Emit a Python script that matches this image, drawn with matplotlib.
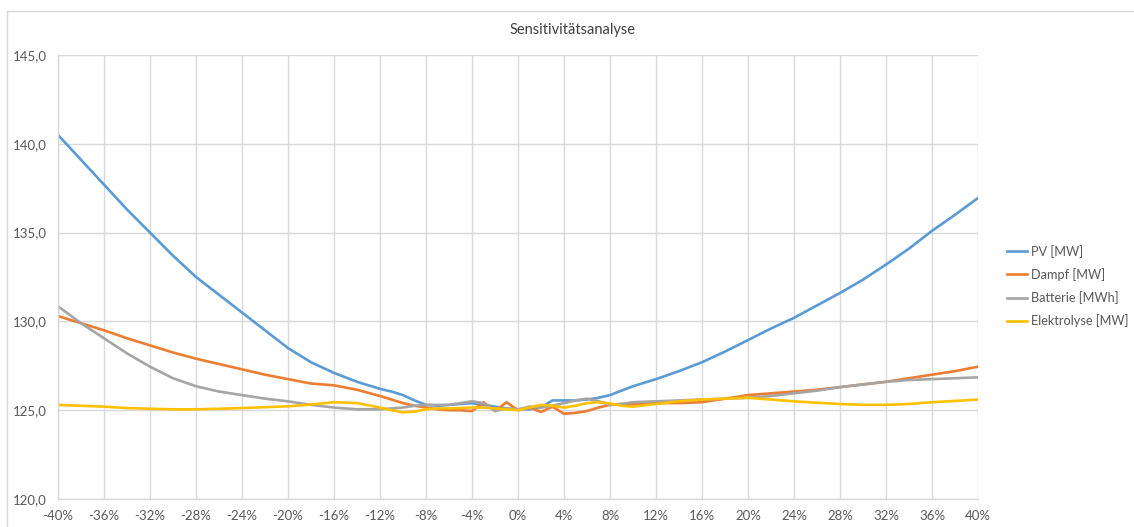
import matplotlib
matplotlib.use("Agg")
import matplotlib.pyplot as plt
from matplotlib.lines import Line2D

# Abweichung in %
x = [-40, -38, -36, -34, -32, -30, -28, -26, -24, -22, -20, -18, -16, -14, -12,
     -11, -10, -9, -8, -7, -6, -5, -4, -3, -2, -1, 0, 1, 2, 3, 4, 5, 6, 7, 8, 9, 10,
     12, 14, 16, 18, 20, 22, 24, 26, 28, 30, 32, 34, 36, 38, 40]

pv = [140.5, 139.1, 137.7, 136.3, 135.0, 133.7, 132.5, 131.5, 130.5, 129.5, 128.5, 127.7, 127.1, 126.6, 126.2,
      126.05, 125.85, 125.55, 125.3, 125.25, 125.3, 125.35, 125.4, 125.3, 125.2, 125.1, 125.05, 125.05, 125.15,
      125.55, 125.55, 125.55, 125.6, 125.7, 125.85, 126.1, 126.35,
      126.75, 127.2, 127.7, 128.3, 128.95, 129.6, 130.2, 130.9, 131.6, 132.35, 133.2, 134.1, 135.1, 136.0, 136.95]

dampf = [130.3, 129.9, 129.5, 129.05, 128.65, 128.25, 127.9, 127.6, 127.3, 127.0, 126.75, 126.5, 126.4, 126.15, 125.8,
         125.6, 125.4, 125.25, 125.15, 125.05, 125.0, 125.0, 124.95, 125.45, 124.95, 125.45, 125.0, 125.15, 124.9,
         125.2, 124.8, 124.85, 124.95, 125.15, 125.3, 125.35, 125.35,
         125.4, 125.4, 125.45, 125.65, 125.85, 125.95, 126.05, 126.15, 126.3, 126.45, 126.6, 126.8, 127.0, 127.2, 127.45]

batterie = [130.85, 129.9, 129.05, 128.2, 127.45, 126.8, 126.35, 126.05, 125.85, 125.65, 125.5, 125.3, 125.15, 125.05, 125.05,
            125.1, 125.15, 125.25, 125.3, 125.3, 125.3, 125.4, 125.5, 125.4, 124.95, 125.1, 125.05, 125.2, 125.15,
            125.25, 125.4, 125.55, 125.65, 125.5, 125.3, 125.35, 125.45,
            125.5, 125.55, 125.6, 125.65, 125.7, 125.8, 125.95, 126.1, 126.3, 126.45, 126.6, 126.7, 126.75, 126.8, 126.85]

elektrolyse = [125.3, 125.25, 125.2, 125.12, 125.08, 125.05, 125.05, 125.08, 125.12, 125.17, 125.22, 125.32, 125.45, 125.4, 125.15,
               125.0, 124.88, 124.92, 125.05, 125.1, 125.1, 125.12, 125.15, 125.15, 125.1, 125.05, 125.0, 125.15, 125.3,
               125.25, 125.15, 125.25, 125.4, 125.45, 125.38, 125.25, 125.2,
               125.35, 125.5, 125.6, 125.65, 125.7, 125.6, 125.5, 125.42, 125.35, 125.3, 125.3, 125.35, 125.45, 125.52, 125.6]

names = ["PV [MW]", "Dampf [MW]", "Batterie [MWh]", "Elektrolyse [MW]"]
colors = ["#5B9BD5", "#ED7D31", "#A5A5A5", "#FFC000"]
xticks = list(range(-40, 41, 4))
yticks = [120, 125, 130, 135, 140, 145]

plt.rcParams['font.family'] = ['Lato', 'DejaVu Sans']
txt = "#595959"

fig = plt.figure(figsize=(11.34, 5.27), dpi=100)
ax = fig.add_axes([58/1134, 1-499/527, 920/1134, 444/527])

for s, c, n in zip([pv, dampf, batterie, elektrolyse], colors, names):
    ax.plot(x, s, color=c, lw=1.9, label=n, solid_capstyle='round', solid_joinstyle='round')

ax.set_xlim(-40, 40)
ax.set_ylim(120, 145)
ax.set_xticks(xticks)
ax.set_xticklabels([f"{v}%" for v in xticks])
ax.set_yticks(yticks)
ax.set_yticklabels([f"{v:.1f}".replace(".", ",") for v in yticks])
ax.tick_params(length=0, labelsize=9.5, colors=txt, pad=8)
ax.grid(True, color="#D9D9D9", lw=1)
ax.set_axisbelow(True)
for side in ["top", "right"]:
    ax.spines[side].set_visible(False)
for side in ["left", "bottom"]:
    ax.spines[side].set_color("#D9D9D9")
    ax.spines[side].set_linewidth(1)

fig.text(573/1134, 1-30/527, "Sensitivitätsanalyse", ha="center", va="center",
         fontsize=10.5, color="#404040")

handles = [Line2D([0], [0], color=c, lw=1.9) for c in colors]
fig.legend(handles, names, loc="center left", bbox_to_anchor=(1007/1134, 1-286/527),
           frameon=False, fontsize=9.2, labelcolor=txt, handlelength=1.6,
           handletextpad=0.25, labelspacing=0.8, borderpad=0, borderaxespad=0)

# Rahmen des Diagrammbereichs
fig.add_artist(Line2D([7/1134, 7/1134], [0, 1-11/527], color="#D9D9D9", lw=1, transform=fig.transFigure))
fig.add_artist(Line2D([7/1134, 1], [1-11/527, 1-11/527], color="#D9D9D9", lw=1, transform=fig.transFigure))

fig.savefig("out.png", dpi=100)
